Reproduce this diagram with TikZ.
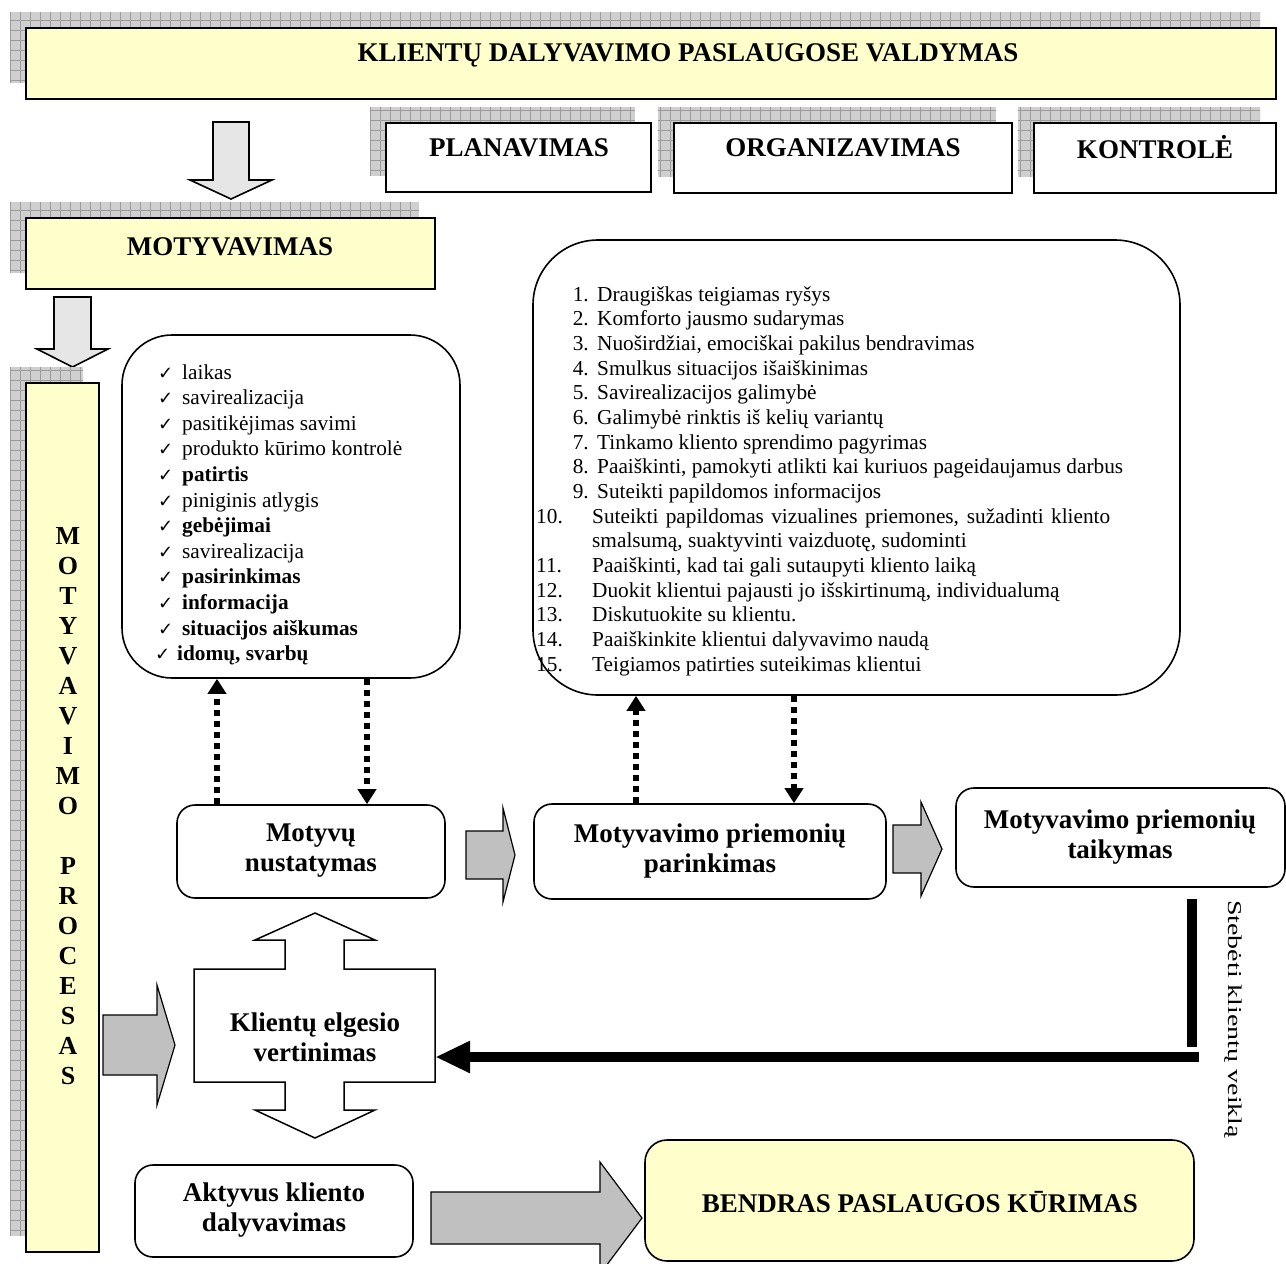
\documentclass[tikz,border=0pt]{standalone}
\usepackage{fontspec}
\setmainfont{Liberation Serif}
\newfontfamily\symfont{DejaVu Sans}
\usetikzlibrary{arrows.meta}

\definecolor{paleyellow}{HTML}{FFFFCC}
\definecolor{arrowgray}{HTML}{C0C0C0}
\definecolor{lightarrow}{HTML}{E6E6E6}
\definecolor{shadowfill}{HTML}{CFCFCF}
\definecolor{shadowline}{HTML}{9C9C9C}

\tikzset{
  frame/.style={draw=black, line width=2pt},
  ybox/.style={frame, fill=paleyellow},
  wbox/.style={frame, fill=white},
  rbox/.style={draw=black, line width=1.6pt, fill=white, rounded corners=18pt},
  lbl/.style={font=\fontsize{27}{30}\selectfont\bfseries, align=center, inner sep=0pt},
  barletter/.style={font=\fontsize{26}{26}\selectfont\bfseries, inner sep=0pt},
  item/.style={font=\fontsize{21.3}{24}\selectfont, anchor=base west, inner sep=0pt},
  numtxt/.style={font=\fontsize{21.3}{24}\selectfont, inner sep=0pt},
  tick/.style={font=\symfont\fontsize{18}{18}\selectfont, anchor=base west, inner sep=0pt},
  grayarrow/.style={draw=black, line width=1.2pt, fill=arrowgray},
  lightblock/.style={draw=black, line width=1.6pt, fill=lightarrow},
  dotlink/.style={line width=6pt, dash pattern=on 6pt off 5pt,
    -{Triangle[length=15pt,width=18pt]}},
  blackbar/.style={line width=10pt, black},
}

% grey chequered drop shadow behind a framed box
\newcommand\gridshadow[4]{%
  \fill[shadowfill] (#1,#2) rectangle (#3,#4);
  \begin{scope}
    \clip (#1,#2) rectangle (#3,#4);
    \draw[shadowline, line width=0.7pt, step=10pt] (#1,#2) grid (#3,#4);
  \end{scope}}

% rectangular node given by its corners: name, style, x1, y1, x2, y2
\newcommand\rectnode[6]{%
  \pgfmathsetmacro\rcx{(#3+#5)/2}\pgfmathsetmacro\rcy{(#4+#6)/2}%
  \pgfmathsetmacro\rwd{#5-#3}\pgfmathsetmacro\rht{#6-#4}%
  \node[#2, minimum width=\rwd pt, minimum height=\rht pt, inner sep=0pt] (#1) at (\rcx,\rcy) {};}

% block arrow pointing right: x0, x1 (head base), x2 (tip), yc, shaft half, head half, style
\newcommand\rightblock[7]{%
  \filldraw[#7] (#1,#4-#5) -- (#2,#4-#5) -- (#2,#4-#6) -- (#3,#4)
    -- (#2,#4+#6) -- (#2,#4+#5) -- (#1,#4+#5) -- cycle;}

% block arrow pointing down: xc, y0, y1 (head base), y2 (tip), shaft half, head half, style
\newcommand\downblock[7]{%
  \filldraw[#7] (#1-#5,#2) -- (#1+#5,#2) -- (#1+#5,#3) -- (#1+#6,#3)
    -- (#1,#4) -- (#1-#6,#3) -- (#1-#5,#3) -- cycle;}

% ticked entry of the motive list: index, name, text
\newcommand\checkitem[3]{%
  \pgfmathsetmacro\ckbase{379+25.6*#1}%
  \node[tick] (#2t) at (158,\ckbase) {✓};
  \node[item] (#2) at (182,\ckbase) {#3};}

% numbered entry of the measures list: line, name, number, text
\newcommand\numitem[4]{%
  \pgfmathsetmacro\nmbase{301+24.67*#1}%
  \node[numtxt, anchor=base east] (#2n) at (589,\nmbase) {#3};
  \node[item] (#2) at (597,\nmbase) {#4};}
\newcommand\numitemw[4]{%
  \pgfmathsetmacro\nmbase{301+24.67*#1}%
  \node[numtxt, anchor=base west] (#2n) at (536,\nmbase) {#3};
  \node[item] (#2) at (592,\nmbase) {#4};}

\begin{document}
\begin{tikzpicture}[x=1pt,y=-1pt]
\useasboundingbox (0,0) rectangle (1286,1264);
\clip (0,0) rectangle (1286,1264);
\fill[white] (0,0) rectangle (1286,1264);

% ---------- management level ----------
\gridshadow{10}{12}{1260}{83}
\rectnode{title}{ybox, line width=2.5pt}{26}{28}{1276}{99}
\node[lbl] (titletext) at (688,55) {KLIENTŲ DALYVAVIMO PASLAUGOSE VALDYMAS};

\gridshadow{370}{107}{635}{176}
\rectnode{plan}{wbox}{386}{123}{651}{192}
\node[lbl] (plantext) at (519,148) {PLANAVIMAS};

\gridshadow{658}{107}{996}{177}
\rectnode{org}{wbox}{674}{123}{1012}{193}
\node[lbl] (orgtext) at (843,148) {ORGANIZAVIMAS};

\gridshadow{1018}{107}{1260}{177}
\rectnode{ctrl}{wbox}{1034}{123}{1276}{193}
\node[lbl] (ctrltext) at (1155,147) {KONTROLĖ};

\downblock{231}{122}{180}{199}{18}{41}{lightblock}

% ---------- motivation ----------
\gridshadow{10}{202}{419}{273}
\rectnode{motiv}{ybox}{26}{218}{435}{289}
\node[lbl] (motivtext) at (230,247) {MOTYVAVIMAS};

\downblock{72.5}{297}{349}{367}{18.5}{35.5}{lightblock}

\gridshadow{10}{367}{83}{1236}
\rectnode{process}{ybox}{26}{383}{99}{1252}
\foreach \ch [count=\k from 0] in {M,O,T,Y,V,A,V,I,M,O}
  \node[barletter] (pa\k) at (68,536+30*\k) {\ch};
\foreach \ch [count=\k from 0] in {P,R,O,C,E,S,A,S}
  \node[barletter] (pb\k) at (68,866+30*\k) {\ch};

% ---------- motives ----------
\rectnode{motives}{draw=black, line width=1.6pt, fill=white, rounded corners=50pt}{122}{335}{460}{678}
\checkitem{0}{ck1}{laikas}
\checkitem{1}{ck2}{savirealizacija}
\checkitem{2}{ck3}{pasitikėjimas savimi}
\checkitem{3}{ck4}{produkto kūrimo kontrolė}
\checkitem{4}{ck5}{\bfseries patirtis}
\checkitem{5}{ck6}{piniginis atlygis}
\checkitem{6}{ck7}{\bfseries gebėjimai}
\checkitem{7}{ck8}{savirealizacija}
\checkitem{8}{ck9}{\bfseries pasirinkimas}
\checkitem{9}{ck10}{\bfseries informacija}
\checkitem{10}{ck11}{\bfseries situacijos aiškumas}
\pgfmathsetmacro\ckbase{379+25.6*11}
\node[tick] (ck12t) at (155,\ckbase) {✓};
\node[item] (ck12) at (177,\ckbase) {\bfseries idomų, svarbų};

% ---------- measures ----------
\rectnode{measures}{draw=black, line width=1.6pt, fill=white, rounded corners=65pt}{533}{240}{1180}{695}
\numitem{0}{m1}{1.}{Draugiškas teigiamas ryšys}
\numitem{1}{m2}{2.}{Komforto jausmo sudarymas}
\numitem{2}{m3}{3.}{Nuoširdžiai, emociškai pakilus bendravimas}
\numitem{3}{m4}{4.}{Smulkus situacijos išaiškinimas}
\numitem{4}{m5}{5.}{Savirealizacijos galimybė}
\numitem{5}{m6}{6.}{Galimybė rinktis iš kelių variantų}
\numitem{6}{m7}{7.}{Tinkamo kliento sprendimo pagyrimas}
\numitem{7}{m8}{8.}{Paaiškinti, pamokyti atlikti kai kuriuos pageidaujamus darbus}
\numitem{8}{m9}{9.}{Suteikti papildomos informacijos}
\numitemw{9}{m10}{10.}{\makebox[518pt][s]{Suteikti papildomas vizualines priemones, sužadinti kliento}}
\pgfmathsetmacro\nmbase{301+24.67*10}
\node[item] (m10b) at (592,\nmbase) {smalsumą, suaktyvinti vaizduotę, sudominti};
\numitemw{11}{m11}{11.}{Paaiškinti, kad tai gali sutaupyti kliento laiką}
\numitemw{12}{m12}{12.}{Duokit klientui pajausti jo išskirtinumą, individualumą}
\numitemw{13}{m13}{13.}{Diskutuokite su klientu.}
\numitemw{14}{m14}{14.}{Paaiškinkite klientui dalyvavimo naudą}
\numitemw{15}{m15}{15.}{Teigiamos patirties suteikimas klientui}

% ---------- process steps ----------
\rectnode{identify}{rbox}{177}{805}{445}{898}
\node[lbl] (identifytext) at (311,851) {Motyvų\\nustatymas};

\rectnode{select}{rbox}{534}{804}{886}{899}
\node[lbl] (selecttext) at (710,851) {Motyvavimo priemonių\\parinkimas};

\rectnode{apply}{rbox}{956}{788}{1285}{887}
\node[lbl] (applytext) at (1120,837) {Motyvavimo priemonių\\taikymas};

\rightblock{466}{503}{515}{855}{24}{47}{grayarrow}
\rightblock{893}{921}{942}{849}{24}{47}{grayarrow}

% dotted links between steps and lists
\draw[dotlink] (identify.north -| 217,0) -- (motives.south -| 217,0);
\draw[dotlink] (motives.south -| 367,0) -- (identify.north -| 367,0);
\draw[dotlink] (select.north -| 636,0) -- (measures.south -| 636,0);
\draw[dotlink] (measures.south -| 794,0) -- (select.north -| 794,0);

% ---------- evaluation ----------
\rectnode{eval}{}{194}{969}{435}{1082}
\filldraw[draw=black, line width=1.5pt, fill=white]
  (194,969) -- (285,969) -- (285,940) -- (255,940) -- (315,913) -- (375,940)
  -- (344,940) -- (344,969) -- (435,969) -- (435,1082) -- (344,1082)
  -- (344,1110) -- (375,1110) -- (315,1138) -- (255,1110) -- (285,1110)
  -- (285,1082) -- (194,1082) -- cycle;
\node[lbl] (evaltext) at (315,1037) {Klientų elgesio\\vertinimas};

\rightblock{103}{157}{175}{1045}{30}{60}{grayarrow}

% observation feedback
\coordinate (obsA) at (1192,899);
\coordinate (obsB) at (1192,1047);
\coordinate (obsC) at (1199,1057);
\draw[blackbar] (obsA) -- (obsB);
\draw[blackbar, -{Triangle[length=35pt,width=30pt]}] (obsC) -- (eval.east |- obsC);
\node[rotate=-90, anchor=west, inner sep=0pt, font=\fontsize{28}{28}\selectfont] (watch) at (1233,900)
  {\scalebox{1}[0.7]{Stebėti klientų veiklą}};

% ---------- outcome ----------
\rectnode{active}{rbox}{135}{1165}{413}{1257}
\node[lbl] (activetext) at (274,1210) {Aktyvus kliento\\dalyvavimas};

\rightblock{431}{600}{642}{1218}{26}{56}{grayarrow}

\rectnode{cocreate}{rbox, fill=paleyellow, rounded corners=22pt}{645}{1140}{1194}{1261}
\node[lbl] (cocreatetext) at (920,1202) {BENDRAS PASLAUGOS KŪRIMAS};
\end{tikzpicture}
\end{document}
